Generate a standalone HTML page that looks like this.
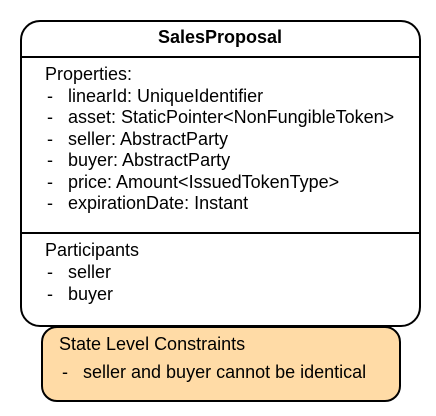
<!DOCTYPE html>
<html><head><style>
body{margin:0;width:436px;height:416px;background:#fff;position:relative;font-family:"Liberation Sans",Arial,sans-serif;color:#000;overflow:hidden}
.box{position:absolute;left:20px;top:20px;width:397px;height:303px;border:2px solid #000;border-radius:20px}
.hl{position:absolute;left:20px;width:401px;height:2px;background:#000}
.t{position:absolute;font-size:18px;line-height:18px;white-space:nowrap}
.org{position:absolute;left:41px;top:326px;width:356px;height:72px;border:2px solid #000;border-radius:16px;background:#FFDBA6}
</style></head><body>
<div class="box"></div>
<div class="hl" style="top:56px"></div>
<div class="hl" style="top:232px"></div>
<div class="t" style="left:0;width:440px;text-align:center;top:28px;font-weight:bold">SalesProposal</div>
<div class="t" style="left:45px;top:65px">Properties:</div>
<div class="t" style="left:47px;top:87px">-</div><div class="t" style="left:68px;top:87px">linearId: UniqueIdentifier</div>
<div class="t" style="left:47px;top:108px">-</div><div class="t" style="left:68px;top:108px">asset: StaticPointer&lt;NonFungibleToken&gt;</div>
<div class="t" style="left:47px;top:130px">-</div><div class="t" style="left:68px;top:130px">seller: AbstractParty</div>
<div class="t" style="left:47px;top:151px">-</div><div class="t" style="left:68px;top:151px">buyer: AbstractParty</div>
<div class="t" style="left:47px;top:173px">-</div><div class="t" style="left:68px;top:173px">price: Amount&lt;IssuedTokenType&gt;</div>
<div class="t" style="left:47px;top:194px">-</div><div class="t" style="left:68px;top:194px">expirationDate: Instant</div>
<div class="t" style="left:45px;top:241px">Participants</div>
<div class="t" style="left:47px;top:263px">-</div><div class="t" style="left:68px;top:263px">seller</div>
<div class="t" style="left:47px;top:285px">-</div><div class="t" style="left:68px;top:285px">buyer</div>
<div class="org"></div>
<div class="t" style="left:59px;top:335px">State Level Constraints</div>
<div class="t" style="left:62px;top:363px">-</div><div class="t" style="left:83px;top:363px">seller and buyer cannot be identical</div>
</body></html>
